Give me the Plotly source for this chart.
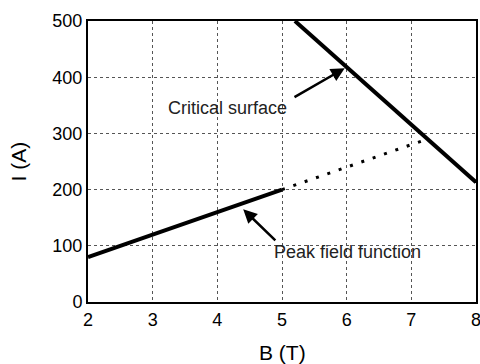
import plotly.graph_objects as go

# Data
crit_B = [5.2, 8.0]
crit_I = [500, 213]
peak_solid_B = [2.0, 5.0]
peak_solid_I = [80, 200]
peak_dot_B = [5.0, 7.25]
peak_dot_I = [200, 290]
x_ticks = [2, 3, 4, 5, 6, 7, 8]
y_ticks = [0, 100, 200, 300, 400, 500]

fig = go.Figure()
fig.add_trace(go.Scatter(x=crit_B, y=crit_I, mode="lines",
                         line=dict(color="black", width=4), showlegend=False))
fig.add_trace(go.Scatter(x=peak_solid_B, y=peak_solid_I, mode="lines",
                         line=dict(color="black", width=4), showlegend=False))
fig.add_trace(go.Scatter(x=peak_dot_B, y=peak_dot_I, mode="lines",
                         line=dict(color="black", width=3, dash="3px,9px"), showlegend=False))

font = "Liberation Sans, Arial, sans-serif"
# arrows
fig.add_annotation(x=5.97, y=416, ax=5.17, ay=363, axref="x", ayref="y", xref="x", yref="y",
                   text="", showarrow=True, arrowhead=2, arrowsize=1.1, arrowwidth=2.5, arrowcolor="black")
fig.add_annotation(x=4.40, y=165, ax=4.92, ay=107, axref="x", ayref="y", xref="x", yref="y",
                   text="", showarrow=True, arrowhead=2, arrowsize=1.1, arrowwidth=2.5, arrowcolor="black")
fig.add_annotation(x=4.15, y=345, text="Critical surface", showarrow=False,
                   font=dict(family=font, size=18, color="#222"))
fig.add_annotation(x=6.02, y=89, text="Peak field function", showarrow=False,
                   font=dict(family=font, size=18, color="#222"))
# axis titles
fig.add_annotation(x=0, y=0.5, xref="paper", yref="paper", xshift=-70, text="I (A)",
                   textangle=-90, showarrow=False, xanchor="center", yanchor="middle",
                   font=dict(family=font, size=21, color="black"))
fig.add_annotation(x=0.5, y=0, xref="paper", yref="paper", yshift=-50, text="B (T)",
                   showarrow=False, xanchor="center", yanchor="middle",
                   font=dict(family=font, size=21, color="black"))

fig.update_xaxes(range=[2, 8], tickvals=x_ticks, showgrid=True, gridcolor="#555",
                 griddash="dot", gridwidth=1, showline=True, linecolor="black", linewidth=2,
                 mirror=True, zeroline=False, ticks="", automargin=False,
                 ticklabeloverflow="allow",
                 tickfont=dict(family=font, size=18, color="black"))
fig.update_yaxes(range=[0, 500], tickvals=y_ticks, showgrid=True, gridcolor="#555",
                 griddash="dot", gridwidth=1, showline=True, linecolor="black", linewidth=2,
                 mirror=True, zeroline=False, ticks="", automargin=False,
                 ticklabeloverflow="allow",
                 tickfont=dict(family=font, size=18, color="black"))
fig.update_layout(width=480, height=364, margin=dict(l=88, r=4, t=21, b=62),
                  plot_bgcolor="white", paper_bgcolor="white")
fig.write_html("out.html", config={"displayModeBar": False},
               post_script="document.body.style.margin='0';document.body.style.overflow='hidden';")
